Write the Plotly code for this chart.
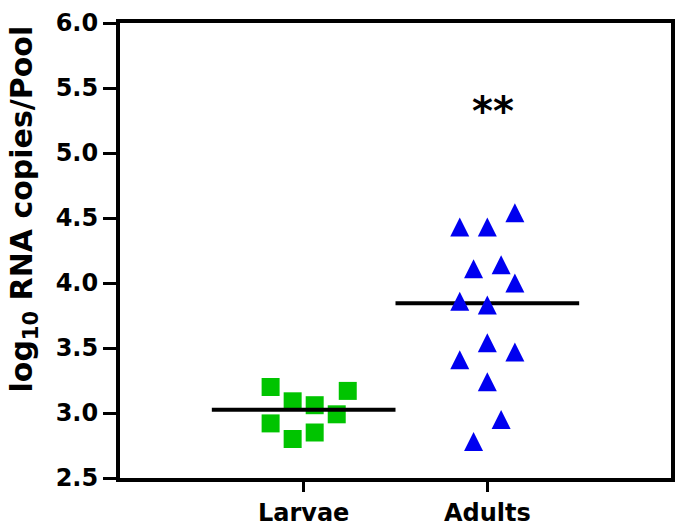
import numpy as np
import plotly.graph_objects as go

# ---------------- data ----------------
categories = ["Larvae", "Adults"]
larvae_values = [3.20, 3.09, 3.06, 3.17, 2.99, 2.92, 2.80, 2.85]
larvae_jitter = [-0.18, -0.06, 0.06, 0.24, 0.18, -0.18, -0.06, 0.06]
adults_values = [4.43, 4.43, 4.54, 4.11, 4.14, 4.00, 3.86, 3.83,
                 3.54, 3.47, 3.41, 3.24, 2.95, 2.78]
adults_jitter = [-0.15, 0.0, 0.15, -0.075, 0.075, 0.15, -0.15, 0.0,
                 0.0, 0.15, -0.15, 0.0, 0.075, -0.075]
y_tick_values = [2.5, 3.0, 3.5, 4.0, 4.5, 5.0, 5.5, 6.0]
y_title = "log<sub>10</sub> RNA copies/Pool"
significance_label = "**"
significance_y = 5.32

# ---------------- layout constants ----------------
W, H = 684, 531
M = dict(l=120, r=13, t=23, b=53)
Y_RANGE = [2.5, 6.0]
X_RANGE = [0, 3]
FONT = "DejaVu Sans"
GREEN = "#00C400"
BLUE = "#0000F0"
TRI_SIZE = 19

plot_w = W - M["l"] - M["r"]
plot_h = H - M["t"] - M["b"]
px_per_unit = plot_h / (Y_RANGE[1] - Y_RANGE[0])
# arrow-up marker has its apex at the data point; shift an overlay axis so the
# triangle is centred on the value
tri_shift = (TRI_SIZE / 2) / px_per_unit

cat_pos = {c: i + 1 for i, c in enumerate(categories)}
larvae_x = [cat_pos["Larvae"] + j for j in larvae_jitter]
adults_x = [cat_pos["Adults"] + j for j in adults_jitter]

fig = go.Figure()

fig.add_trace(go.Scatter(
    x=larvae_x, y=larvae_values, mode="markers",
    marker=dict(symbol="square", size=18, color=GREEN),
    showlegend=False, hoverinfo="y"))

fig.add_trace(go.Scatter(
    x=adults_x, y=adults_values, mode="markers", yaxis="y2",
    marker=dict(symbol="arrow-up", size=TRI_SIZE, color=BLUE),
    showlegend=False, hoverinfo="y"))

# median lines
for name, vals in (("Larvae", larvae_values), ("Adults", adults_values)):
    med = float(np.median(vals))
    c = cat_pos[name]
    fig.add_trace(go.Scatter(
        x=[c - 0.5, c + 0.5], y=[med, med], mode="lines",
        line=dict(color="black", width=4),
        showlegend=False, hoverinfo="skip"))

fig.add_annotation(
    x=cat_pos["Adults"] + 0.03, y=significance_y, text=significance_label,
    showarrow=False, font=dict(family=FONT, size=40, color="black", weight="bold"),
    xanchor="center", yanchor="middle")

# y-axis title (placed a little above the axis centre, as in the original)
fig.add_annotation(
    xref="paper", yref="paper",
    x=-(M["l"] - 1) / plot_w, y=(H - M["b"] - 209) / plot_h,
    text=y_title, textangle=-90, showarrow=False,
    xanchor="left", yanchor="middle",
    font=dict(family=FONT, size=30, color="black", weight="bold"))

axis_common = dict(
    showline=True, linecolor="black", linewidth=4, mirror=True,
    ticks="outside", tickcolor="black", tickwidth=3,
    showgrid=False, zeroline=False, automargin=False,
    tickfont=dict(family=FONT, size=24, color="black", weight="bold"),
)

fig.update_layout(
    width=W, height=H, margin=M,
    paper_bgcolor="white", plot_bgcolor="white",
    xaxis=dict(range=X_RANGE, tickvals=[cat_pos[c] for c in categories],
               ticktext=categories, ticklen=10, **axis_common),
    yaxis=dict(range=Y_RANGE, tickvals=y_tick_values,
               ticktext=[f"{v:.1f}" for v in y_tick_values], ticklen=13,
               **axis_common),
    yaxis2=dict(range=[Y_RANGE[0] - tri_shift, Y_RANGE[1] - tri_shift],
                overlaying="y", visible=False),
)

fig.write_html("out.html", config={"displayModeBar": False},
               post_script="document.body.style.margin='0';document.body.style.padding='0';")
